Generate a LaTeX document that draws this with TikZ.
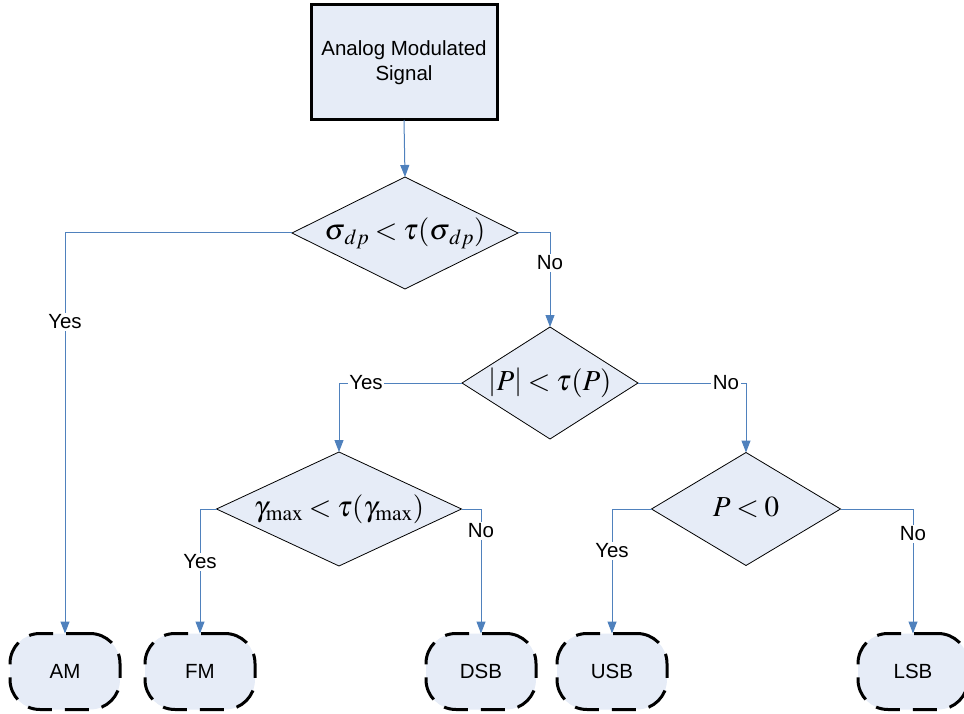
\documentclass[tikz,border=0pt]{standalone}
\usepackage{mathptmx}
\usepackage[no-math]{fontspec}
\setmainfont{Liberation Sans}
\usetikzlibrary{shapes.geometric,arrows.meta}
\definecolor{boxfill}{RGB}{230,236,247}
\definecolor{lineblue}{RGB}{79,129,189}
\newcommand{\mathtight}{\thickmuskip=3.5mu plus 1mu\relax}
\begin{document}
\begin{tikzpicture}[x=1pt,y=-1pt,
  every node/.style={font=\fontsize{20.5}{25}\selectfont},
  startbox/.style={draw=black,line width=3pt,fill=boxfill,minimum width=186pt,minimum height=115pt,align=center,inner sep=0pt,outer sep=0pt},
  decision/.style={diamond,draw=black,line width=0.8pt,fill=boxfill,inner sep=0pt,outer sep=0pt,shape aspect=2,text height=16pt,text depth=2pt,font=\fontsize{29}{33}\selectfont\mathtight},
  terminal/.style={rectangle,rounded corners=30pt,draw=black,line width=3pt,dash pattern=on 24pt off 13pt,fill=boxfill,minimum width=110pt,minimum height=76pt,inner sep=0pt,outer sep=0pt},
  flow/.style={draw=lineblue,line width=1pt,-{Triangle[length=12pt,width=9pt]}},
  lbl/.style={fill=white,inner sep=1.5pt}
]
\useasboundingbox (0,0) rectangle (964,714);

\node[startbox] (start) at (404,62.5) {Analog Modulated\\Signal};

\node[decision,minimum width=226pt,minimum height=112pt] (d1) at (405,233) {$\sigma_{\,dp} < \tau(\sigma_{\,dp})$};
\node[decision,minimum width=176pt,minimum height=112pt] (d2) at (550,383) {$\left|P\right| < \tau(P)$};
\node[decision,minimum width=245pt,minimum height=114pt] (d3) at (339,509) {$\gamma_{\max} < \tau(\gamma_{\max})$};
\node[decision,minimum width=189pt,minimum height=113pt] (d4) at (746,509) {$P<0$};

\node[terminal] (am) at (65,671.5) {AM};
\node[terminal] (fm) at (200,671.5) {FM};
\node[terminal] (dsb) at (481,671.5) {DSB};
\node[terminal] (usb) at (612,671.5) {USB};
\node[terminal] (lsb) at (913,671.5) {LSB};

\draw[flow] (start.south) -- (d1.north);
\draw[flow] (d1.west) -| (am.north);
\draw[flow] (d1.east) -| (d2.north);
\draw[flow] (d2.west) -| (d3.north);
\draw[flow] (d2.east) -| (d4.north);
\draw[flow] (d3.west) -| (fm.north);
\draw[flow] (d3.east) -| (dsb.north);
\draw[flow] (d4.west) -| (usb.north);
\draw[flow] (d4.east) -| (lsb.north);

\node[lbl] (l1) at (65,322) {Yes};
\node[lbl] (l2) at (550,263) {No};
\node[lbl] (l3) at (366,383) {Yes};
\node[lbl] (l4) at (726,383) {No};
\node[lbl] (l5) at (200,562) {Yes};
\node[lbl] (l6) at (481,531) {No};
\node[lbl] (l7) at (612,551) {Yes};
\node[lbl] (l8) at (913,534) {No};
\end{tikzpicture}
\end{document}
